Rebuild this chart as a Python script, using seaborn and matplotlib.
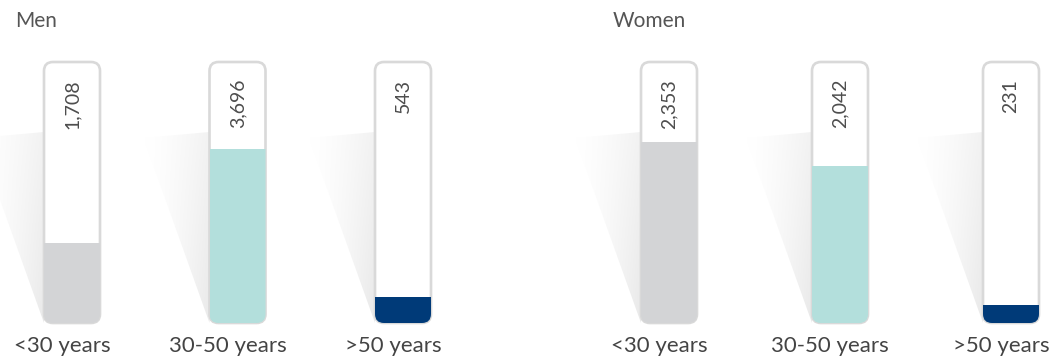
import numpy as np
import matplotlib
matplotlib.use("Agg")
import matplotlib.pyplot as plt
from matplotlib.patches import FancyBboxPatch, Polygon
from matplotlib.transforms import blended_transform_factory
import seaborn as sns

# ---- data -------------------------------------------------------------
age_groups = ["<30 years", "30-50 years", ">50 years"]
men_counts = [1708, 3696, 543]
women_counts = [2353, 2042, 231]
panel_titles = ["Men", "Women"]
# full-tube capacity of each panel (headcount)
men_capacity = 5550
women_capacity = 3400
fill_colors = ["#d3d4d6", "#b3dfdc", "#003a78"]

sns.set_theme(style="white")
plt.rcParams["font.family"] = ["Lato", "DejaVu Sans"]

W, H, DPI = 1058, 362, 100
fig = plt.figure(figsize=(W / DPI, H / DPI), dpi=DPI)
fig.patch.set_facecolor("white")

TUBE_BOTTOM = 323   # px from top
TUBE_TOP = 62
TUBE_H = TUBE_BOTTOM - TUBE_TOP
TUBE_W = 56
RADIUS = 9

panels = [
    dict(title=panel_titles[0], counts=men_counts, cap=men_capacity,
         left_px=0, first_center=72, step=165.5, title_x=15),
    dict(title=panel_titles[1], counts=women_counts, cap=women_capacity,
         left_px=529, first_center=669, step=171, title_x=613),
]

for p in panels:
    s = p["step"]          # px per category unit
    cap = p["cap"]
    ax = fig.add_axes([p["left_px"] / W, (H - TUBE_BOTTOM) / H,
                       529 / W, TUBE_H / H])
    w = TUBE_W / s
    sns.barplot(x=age_groups, y=p["counts"], hue=age_groups,
                palette=fill_colors, width=w, saturation=1,
                linewidth=0, legend=False, ax=ax, zorder=3)
    ax.axis("off")

    y_per_px = cap / TUBE_H
    aspect = y_per_px * s
    xform_lab = blended_transform_factory(ax.transData, ax.transAxes)

    for i, (lab, val) in enumerate(zip(age_groups, p["counts"])):
        x0 = i - w / 2
        # soft shadow behind the tube
        sx = x0 - 66 / s
        top_y = (TUBE_BOTTOM - 132) * y_per_px
        poly = [(sx, (TUBE_BOTTOM - 138) * y_per_px), (x0, top_y), (x0, 0)]
        shadow = Polygon(poly, closed=True, facecolor="none",
                         edgecolor="none", transform=ax.transData)
        ax.add_patch(shadow)
        ny, nx = 120, 60
        u = np.linspace(0, 1, nx)[None, :]
        v = np.linspace(0, 1, ny)[:, None]
        g = 1 - 0.085 * (u ** 1.4) * (0.6 + 0.4 * v)
        img = np.dstack([g, g, g])
        im = ax.imshow(img, extent=[sx, x0, 0, top_y],
                       origin="upper", aspect="auto", zorder=0,
                       interpolation="bilinear")
        im.set_clip_path(shadow)

        # tube outline
        tube = FancyBboxPatch((x0, 0), w, cap,
                              boxstyle=f"round,pad=0,rounding_size={RADIUS / s}",
                              mutation_aspect=aspect, facecolor="white",
                              edgecolor="#d9d9d9", linewidth=1.9, zorder=2,
                              clip_on=False)
        ax.add_patch(tube)

        # value label at the top of the tube
        ax.text(i, cap - 17 * y_per_px, f"{val:,}", rotation=90,
                ha="center", va="top", fontsize=14, color="#4d4d4d",
                zorder=5)
        # category label beneath
        ax.text(i - 10 / s, -23 / TUBE_H, lab, transform=xform_lab,
                ha="center", va="center", fontsize=16, color="#444444",
                clip_on=False)

    ax.set_xlim(-(p["first_center"] - p["left_px"]) / s,
                (p["left_px"] + 529 - p["first_center"]) / s)
    ax.set_ylim(0, cap)

    # clip filled bars to the rounded tube shape
    tubes = [pt for pt in ax.patches if isinstance(pt, FancyBboxPatch)]
    bars = [pt for pt in ax.patches if type(pt).__name__ == "Rectangle"]
    for bar in bars:
        cx = bar.get_x() + bar.get_width() / 2
        idx = int(round(cx))
        bar.set_clip_path(tubes[idx])

    fig.text(p["title_x"] / W, 1 - 21 / H, p["title"], ha="left",
             va="center", fontsize=15, color="#555555")

fig.savefig("out.png", dpi=DPI, facecolor="white")
